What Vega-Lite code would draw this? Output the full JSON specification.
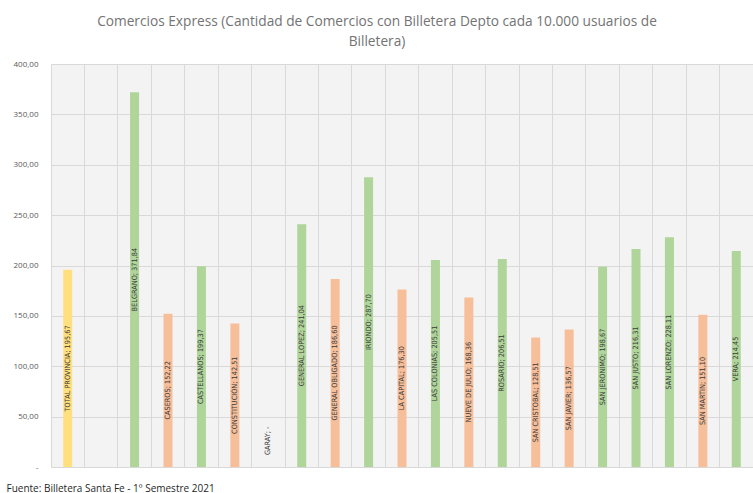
{
  "$schema": "https://vega.github.io/schema/vega-lite/v6.json",
  "width": 702,
  "height": 403,
  "autosize": "none",
  "padding": {"left": 51, "top": 64, "right": 0, "bottom": 26},
  "background": "white",
  "title": {
    "text": ["Comercios Express (Cantidad de Comercios con Billetera Depto cada 10.000 usuarios de", "Billetera)"],
    "font": "Open Sans",
    "fontSize": 13.7,
    "fontWeight": "normal",
    "color": "#737373",
    "anchor": "middle",
    "frame": "group",
    "dx": -25,
    "offset": 11,
    "lineHeight": 20
  },
  "config": {
    "view": {"fill": "#f3f3f3", "stroke": null}
  },
  "data": {
    "values": [
      {"name": "TOTAL PROVINCIA", "value": 195.67, "group": "total"},
      {"name": "BELGRANO", "value": 371.84, "group": "green"},
      {"name": "CASEROS", "value": 152.22, "group": "orange"},
      {"name": "CASTELLANOS", "value": 199.37, "group": "green"},
      {"name": "CONSTITUCIÓN", "value": 142.51, "group": "orange"},
      {"name": "GARAY", "value": 0, "group": "orange"},
      {"name": "GENERAL LOPEZ", "value": 241.04, "group": "green"},
      {"name": "GENERAL OBLIGADO", "value": 186.60, "group": "orange"},
      {"name": "IRIONDO", "value": 287.70, "group": "green"},
      {"name": "LA CAPITAL", "value": 176.30, "group": "orange"},
      {"name": "LAS COLONIAS", "value": 205.51, "group": "green"},
      {"name": "NUEVE DE JULIO", "value": 168.36, "group": "orange"},
      {"name": "ROSARIO", "value": 206.51, "group": "green"},
      {"name": "SAN CRISTOBAL", "value": 128.51, "group": "orange"},
      {"name": "SAN JAVIER", "value": 136.57, "group": "orange"},
      {"name": "SAN JERONIMO", "value": 198.67, "group": "green"},
      {"name": "SAN JUSTO", "value": 216.31, "group": "green"},
      {"name": "SAN LORENZO", "value": 228.11, "group": "green"},
      {"name": "SAN MARTIN", "value": 151.10, "group": "orange"},
      {"name": "VERA", "value": 214.45, "group": "green"}
    ]
  },
  "transform": [
    {"calculate": "max(datum.value / 2, 26)", "as": "labelY"},
    {"calculate": "datum.name + '; ' + (datum.value == 0 ? '-' : replace(format(datum.value, '.2f'), '.', ','))", "as": "label"}
  ],
  "encoding": {
    "x": {
      "field": "name",
      "type": "nominal",
      "sort": null,
      "scale": {
        "domain": ["TOTAL PROVINCIA", "", "BELGRANO", "CASEROS", "CASTELLANOS", "CONSTITUCIÓN", "GARAY", "GENERAL LOPEZ", "GENERAL OBLIGADO", "IRIONDO", "LA CAPITAL", "LAS COLONIAS", "NUEVE DE JULIO", "ROSARIO", "SAN CRISTOBAL", "SAN JAVIER", "SAN JERONIMO", "SAN JUSTO", "SAN LORENZO", "SAN MARTIN", "VERA"],
        "paddingInner": 0,
        "paddingOuter": 0
      },
      "axis": {
        "labels": false,
        "ticks": false,
        "domain": false,
        "grid": true,
        "gridColor": "#d9d9d9",
        "bandPosition": 0,
        "title": "Fuente: Billetera Santa Fe - 1º Semestre 2021",
        "titleAnchor": "start",
        "titleAlign": "left",
        "titleBaseline": "middle",
        "titleX": -45,
        "titleY": 21,
        "titleFont": "Open Sans",
        "titleFontSize": 10,
        "titleFontWeight": "normal",
        "titleColor": "#1f1f1f"
      }
    }
  },
  "layer": [
    {
      "mark": {"type": "bar", "size": 9},
      "encoding": {
        "y": {
          "field": "value",
          "type": "quantitative",
          "scale": {"domain": [0, 400], "nice": false},
          "axis": {
            "values": [0, 50, 100, 150, 200, 250, 300, 350, 400],
            "labelExpr": "datum.value == 0 ? '-' : replace(format(datum.value, '.2f'), '.', ',')",
            "grid": true,
            "gridColor": "#d9d9d9",
            "domain": false,
            "ticks": false,
            "labelPadding": 13,
            "labelFont": "Open Sans",
            "labelFontSize": 8,
            "labelColor": "#595959",
            "title": null
          }
        },
        "color": {
          "field": "group",
          "type": "nominal",
          "scale": {"domain": ["total", "green", "orange"], "range": ["#FFDF7E", "#B0D59A", "#F7BE9A"]},
          "legend": null
        }
      }
    },
    {
      "mark": {"type": "text", "angle": 270, "font": "Liberation Sans Narrow, DejaVu Sans Condensed, Lato", "fontSize": 7.3, "color": "#3a3a3a", "align": "center", "baseline": "middle"},
      "encoding": {
        "y": {"field": "labelY", "type": "quantitative"},
        "text": {"field": "label"}
      }
    }
  ]
}
